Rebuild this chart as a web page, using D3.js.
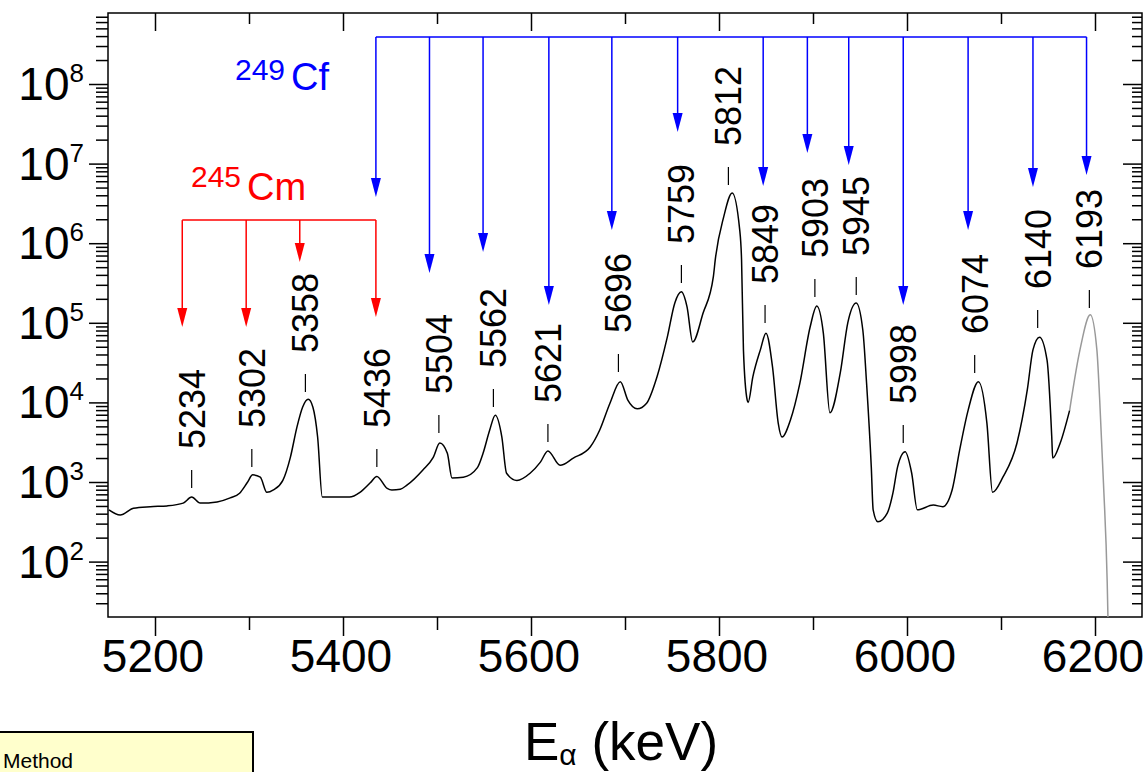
<!DOCTYPE html>
<html>
<head>
<meta charset="utf-8">
<script src="https://cdn.jsdelivr.net/npm/d3@7"></script>
<style>
  body { margin: 0; background: #fff; }
  svg { display: block; font-family: Arial, "Liberation Sans", sans-serif; }
</style>
</head>
<body>
<div id="chart"></div>
<script>
// spectrum: energy (keV) and counts per channel
const energy = [5151, 5163, 5177, 5195, 5213, 5230, 5239, 5248, 5266, 5280, 5290, 5298, 5304, 5312, 5319,
  5326, 5336, 5344, 5351, 5357, 5363, 5368, 5373, 5378, 5389, 5407, 5418, 5429, 5436, 5447, 5452, 5461,
  5468, 5485, 5496, 5503, 5511, 5516, 5528, 5543, 5549, 5556, 5562, 5569, 5574, 5585, 5599, 5610, 5618,
  5631, 5645, 5663, 5673, 5684, 5695, 5703, 5713, 5723, 5734, 5745, 5753, 5760, 5766, 5772, 5783, 5794,
  5796, 5805, 5814, 5822, 5824, 5826, 5830, 5831, 5836, 5844, 5850, 5857, 5863, 5867, 5876, 5886, 5897,
  5904, 5911, 5918, 5929, 5937, 5946, 5953, 5957, 5962, 5964, 5969, 5979, 5985, 5990, 5998, 6005, 6011,
  6028, 6038, 6048, 6056, 6065, 6076, 6085, 6091, 6102, 6117, 6128, 6134, 6141, 6149, 6154, 6155, 6163,
  6173, 6184, 6195, 6202, 6205, 6209, 6213, 6214];
const counts = [447, 385, 468, 490, 501, 543, 646, 543, 562, 631, 724, 977, 1230, 1148, 741,
  794, 1047, 2042, 4898, 8710, 10965, 8710, 3673, 646, 646, 646, 741, 977, 1175, 832, 794, 813,
  912, 1413, 2042, 3090, 2291, 1122, 1148, 1514, 2291, 4467, 6918, 3673, 1288, 1047, 1288, 1778, 2455,
  1622, 1995, 2754, 4467, 9772, 18200, 10700, 8318, 9772, 20900, 66070, 177800, 245500, 158500, 57540, 131800, 380200,
  616600, 2138000, 4266000, 1479000, 616600, 45700, 10700, 10000, 20900, 45700, 74130, 27540, 5495, 3673, 6026, 17380, 89130,
  162200, 74130, 7413, 23440, 100000, 177800, 81280, 17380, 1549, 447, 316, 407, 724, 1549, 2399, 1288, 447,
  513, 490, 794, 2512, 7943, 18200, 5495, 741, 1148, 3090, 14450, 45700, 66070, 33880, 3673, 1995, 3090,
  7943, 45700, 125900, 45700, 10700, 977, 54, 15];
const grayFrom = 6173;   // tail of the spectrum drawn in grey

// peak labels
const peakLabels = ["5234", "5302", "5358", "5436", "5504", "5562", "5621", "5696", "5759", "5812",
  "5849", "5903", "5945", "5998", "6074", "6140", "6193"];
const peakPos = [5239, 5303, 5360, 5436, 5502, 5560, 5618, 5693, 5760, 5810,
  5849, 5902, 5946, 5996, 6072, 6139, 6194];
const peakMark = [841, 1542, 13520, 1542, 4130, 8750, 3184, 24100, 316000, 5380000,
  99400, 211000, 223000, 3090, 23400, 86100, 153000];

// 245Cm arrows (red)
const cmArrowE = [5229, 5297, 5354, 5435];
const cmArrowTip = [88500, 88500, 580000, 118000];
const cmBar = 1950000;

// 249Cf arrows (blue)
const cfArrowE = [5435, 5492, 5549, 5619, 5686, 5756, 5847, 5894, 5938, 5996, 6065, 6134, 6191];
const cfArrowTip = [3.8e6, 4.23e5, 7.76e5, 1.67e5, 1.47e6, 2.5e7, 5.24e6, 1.36e7, 9.6e6, 1.67e5, 1.47e6, 5.08e6, 7.2e6];
const cfBar = 3.9e8;

const xTicks = d3.range(5200, 6201, 100);
const yExps = [2, 3, 4, 5, 6, 7, 8];

const W = 1146, H = 772;
const m = {left: 108, right: 1142, top: 13, bottom: 617};

const svg = d3.select('#chart').append('svg')
    .attr('width', W)
    .attr('height', H);

const x = d3.scaleLinear().domain([5150, 6250]).range([m.left, m.right]);
const y = d3.scaleLog().domain([Math.pow(10, 1.304), Math.pow(10, 8.892)]).range([m.bottom, m.top]);

svg.append('clipPath').attr('id', 'plotclip')
    .append('rect')
    .attr('x', m.left).attr('y', m.top)
    .attr('width', m.right - m.left).attr('height', m.bottom - m.top);

// ---- axes
const isMajorX = v => v % 200 === 0;
const isDecade = v => Math.abs(Math.log10(v) - Math.round(Math.log10(v))) < 1e-9;

const xb = svg.append('g')
    .attr('transform', `translate(0,${m.bottom})`)
    .call(d3.axisBottom(x).tickValues(xTicks).tickSize(13).tickFormat(''));
xb.selectAll('.tick line').attr('y2', d => isMajorX(d) ? 19 : 13);

const xt = svg.append('g')
    .attr('transform', `translate(0,${m.top})`)
    .call(d3.axisTop(x).tickValues(xTicks).tickSize(-11).tickFormat(''));
xt.selectAll('.tick line').attr('y2', d => isMajorX(d) ? 18 : 11);

const yl = svg.append('g')
    .attr('transform', `translate(${m.left},0)`)
    .call(d3.axisLeft(y).tickValues(y.ticks()).tickSize(12).tickFormat(''));
yl.selectAll('.tick line').attr('x2', d => isDecade(d) ? -19 : -12);

const yr = svg.append('g')
    .attr('transform', `translate(${m.right},0)`)
    .call(d3.axisRight(y).tickValues(y.ticks()).tickSize(-10).tickFormat(''));
yr.selectAll('.tick line').attr('x2', d => isDecade(d) ? -19 : -10);

svg.selectAll('.domain').remove();
svg.selectAll('.tick line').attr('stroke', '#000').attr('stroke-width', 1.5);

// x tick labels
svg.append('g').selectAll('text')
    .data(xTicks.filter(isMajorX))
    .join('text')
    .attr('x', d => x(d) - 2)
    .attr('y', m.bottom + 55)
    .attr('text-anchor', 'middle')
    .style('font-size', '46px')
    .text(d => d);

// y tick labels 10^n
const yLab = svg.append('g').selectAll('text')
    .data(yExps)
    .join('text')
    .attr('x', 84)
    .attr('y', d => y(Math.pow(10, d)) + 16)
    .attr('text-anchor', 'end')
    .style('font-size', '46px');
yLab.append('tspan').text('10');
yLab.append('tspan').attr('dy', -18).style('font-size', '26px').text(d => d);

// frame
svg.append('rect')
    .attr('x', m.left).attr('y', m.top)
    .attr('width', m.right - m.left).attr('height', m.bottom - m.top)
    .attr('fill', 'none').attr('stroke', '#000').attr('stroke-width', 1.5);

// ---- spectrum
const spec = energy.map((e, i) => ({e: e, c: counts[i]}));
const line = d3.line().x(d => x(d.e)).y(d => y(d.c)).curve(d3.curveMonotoneX);
const plot = svg.append('g').attr('clip-path', 'url(#plotclip)');
plot.append('path')
    .datum(spec.filter(d => d.e <= grayFrom))
    .attr('d', line)
    .attr('fill', 'none').attr('stroke', '#000').attr('stroke-width', 1.5);
plot.append('path')
    .datum(spec.filter(d => d.e >= grayFrom))
    .attr('d', line)
    .attr('fill', 'none').attr('stroke', '#999').attr('stroke-width', 1.5);

// ---- peak labels with short marks
const peaks = svg.append('g');
peakLabels.forEach((lab, i) => {
    const px = x(peakPos[i]);
    const py = y(peakMark[i]);
    peaks.append('line')
        .attr('x1', px).attr('x2', px)
        .attr('y1', py).attr('y2', py - 18)
        .attr('stroke', '#000').attr('stroke-width', 1.2);
    peaks.append('text')
        .attr('transform', `translate(${px},${py - 39}) rotate(-90)`)
        .attr('dy', '0.36em')
        .style('font-size', '36px')
        .text(lab);
});

// ---- arrows
function arrows(es, tips, bar, color) {
    const g = svg.append('g');
    g.append('line')
        .attr('x1', x(d3.min(es))).attr('x2', x(d3.max(es)))
        .attr('y1', y(bar)).attr('y2', y(bar))
        .attr('stroke', color).attr('stroke-width', 1.5);
    es.forEach((e, i) => {
        const ax = x(e), ty = y(tips[i]);
        g.append('line')
            .attr('x1', ax).attr('x2', ax)
            .attr('y1', y(bar)).attr('y2', ty - 12)
            .attr('stroke', color).attr('stroke-width', 1.5);
        g.append('path')
            .attr('d', `M${ax - 5},${ty - 19}L${ax + 5},${ty - 19}L${ax},${ty}Z`)
            .attr('fill', color);
    });
}
arrows(cmArrowE, cmArrowTip, cmBar, '#ff0000');
arrows(cfArrowE, cfArrowTip, cfBar, '#0000ff');

// isotope names
const cf = svg.append('text').attr('x', 235).attr('y', 90).attr('fill', '#0000ff');
cf.append('tspan').attr('dy', -10).style('font-size', '30px').text('249');
cf.append('tspan').attr('dx', 6).attr('dy', 10).style('font-size', '38px').text('Cf');

const cm = svg.append('text').attr('x', 191).attr('y', 200).attr('fill', '#ff0000');
cm.append('tspan').attr('dy', -13).style('font-size', '30px').text('245');
cm.append('tspan').attr('dx', 6).attr('dy', 13).style('font-size', '38px').text('Cm');

// x axis title
const title = svg.append('text').attr('x', 524).attr('y', 760).style('font-size', '53px');
title.append('tspan').text('E');
title.append('tspan').attr('dy', 5).style('font-size', '30px').text('α');
title.append('tspan').attr('dy', -5).text(' (keV)');

// method box at the bottom edge
svg.append('rect')
    .attr('x', -5).attr('y', 732)
    .attr('width', 258).attr('height', 60)
    .attr('fill', '#ffffcc').attr('stroke', '#000').attr('stroke-width', 2);
svg.append('text')
    .attr('x', 3).attr('y', 768)
    .style('font-size', '21px')
    .text('Method');
</script>
</body>
</html>
